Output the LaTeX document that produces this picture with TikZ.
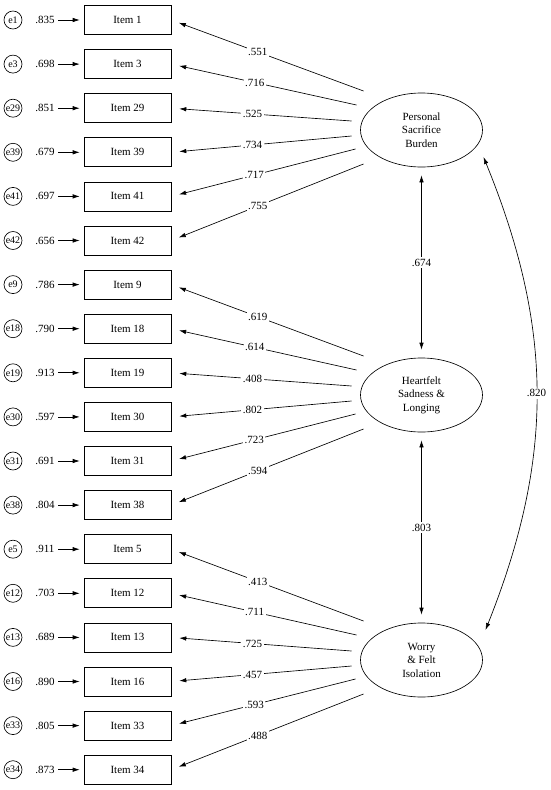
\documentclass[tikz,border=0pt]{standalone}
\usepackage{fontspec}
\setmainfont{Liberation Serif}
\usetikzlibrary{
    calc,                   % Offsets from the factor centres.
    arrows.meta,            % Latex arrow tips.
    positioning,            % Relative positioning of nodes.
    shapes.geometric        % Ellipses for the factors.
}

\begin{document}
\begin{tikzpicture}[>={Latex[length=7pt,width=4.5pt]}, line width=0.65pt,
        x=1pt, y=-1pt, font=\fontsize{11}{13.5}\selectfont,
        item/.style={draw, minimum width=87pt, minimum height=29pt, inner sep=0pt},
        err/.style={draw, circle, minimum size=18pt, inner sep=0pt,
            font=\fontsize{10}{11}\selectfont},
        factor/.style={draw, ellipse, minimum width=122pt, minimum height=74pt,
            align=center, inner sep=0pt},
        lbl/.style={fill=white, inner sep=1.5pt}]
                \useasboundingbox (0,0) rectangle (550,790);
                % Observed items with their error terms.
                \foreach \n/\v [count=\k] in {1/.835, 3/.698, 29/.851, 39/.679,
                        41/.697, 42/.656, 9/.786, 18/.790, 19/.913, 30/.597,
                        31/.691, 38/.804, 5/.911, 12/.703, 13/.689, 16/.890,
                        33/.805, 34/.873} {
                    \node[item] (i\k) at (127.5, {20+44.1*(\k-1)}) {Item \n};
                    \node[err] (e\k) at (13, {20+44.1*(\k-1)}) {e\n};
                    \node (r\k) at (45, {20+44.1*(\k-1)}) {\v};
                    \draw[->, shorten >=4pt] (r\k) -- (i\k);
                }
                % Latent factors.
                \node[factor] (pers) at (421.5,130) {Personal\\Sacrifice\\Burden};
                \node[factor] (heart) at (421.5,395) {Heartfelt\\Sadness \&\\Longing};
                \node[factor] (worry) at (421.5,660) {Worry\\\& Felt\\Isolation};
                % Loadings.
                \foreach \f/\s/\ws in {pers/0/{.551,.716,.525,.734,.717,.755},
                        heart/6/{.619,.614,.408,.802,.723,.594},
                        worry/12/{.413,.711,.725,.457,.593,.488}}
                    \foreach \w [count=\j] in \ws {
                        \pgfmathsetmacro\dx{{-58,-65,-70,-70,-66,-58}[\j-1]}
                        \pgfmathsetmacro\dy{{-39,-25,-9,6,19,34}[\j-1]}
                        \pgfmathtruncatemacro\k{\s+\j}
                        \coordinate (\f\j) at ($(\f)+(\dx,\dy)$);
                        \draw[->, shorten >=8pt] (\f\j)
                            to node [lbl, pos=0.55] {\w} (i\k.east);
                    }
                % Correlations between the factors.
                \draw[<->, shorten <=8pt, shorten >=8pt] (pers)
                    to node [lbl] {.674} (heart);
                \draw[<->, shorten <=8pt, shorten >=8pt] (heart)
                    to node [lbl] {.803} (worry);
                \coordinate (pc) at ($(pers)+(62,27)$);
                \coordinate (wc) at ($(worry)+(64,-30)$);
                \draw[<->] (pc) to[bend left=22] node [lbl] {.820} (wc);
            \end{tikzpicture}
\end{document}
